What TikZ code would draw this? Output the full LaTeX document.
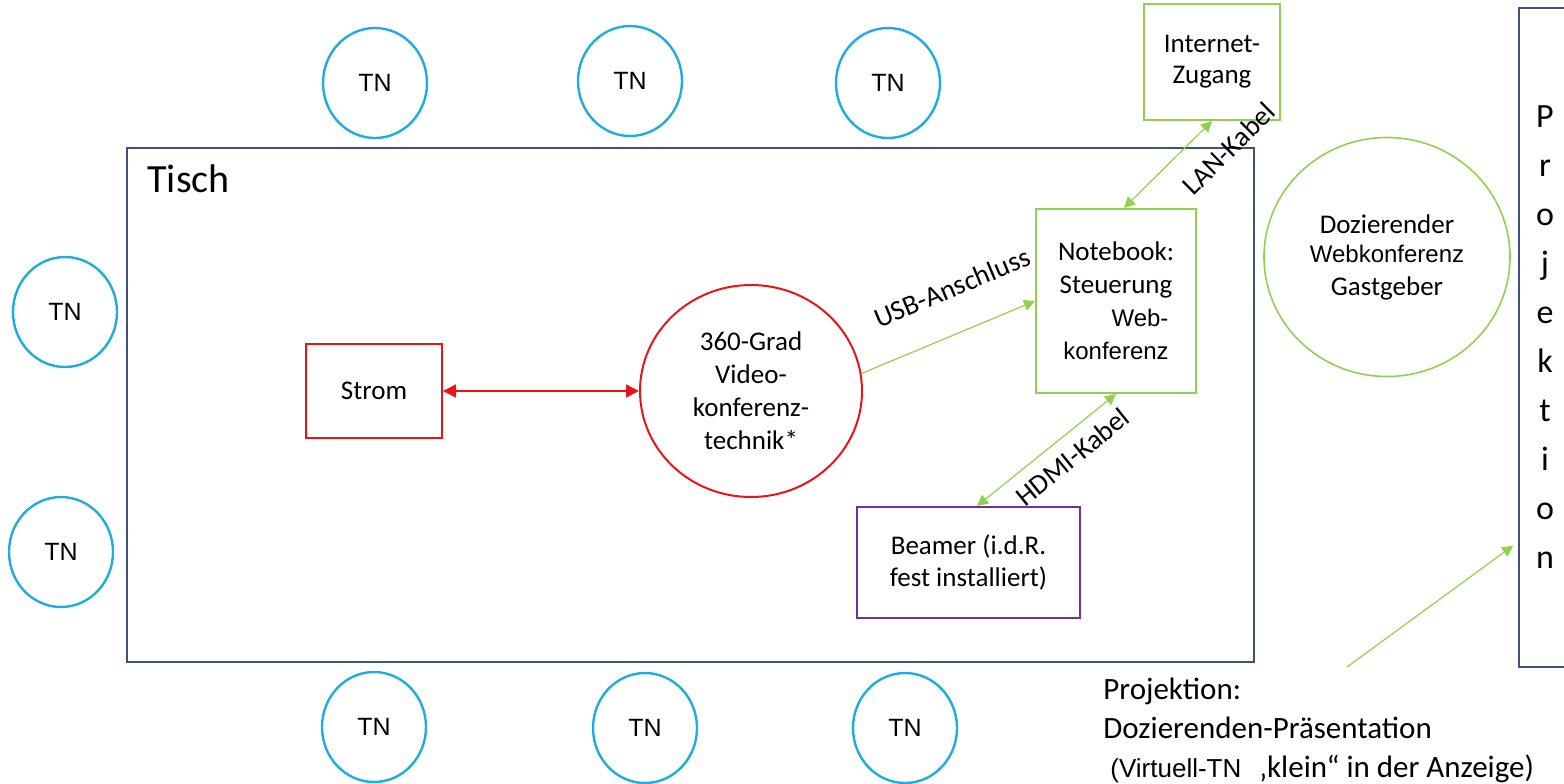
\documentclass[tikz,border=0pt]{standalone}
\usepackage{fontspec}
\setmainfont{Carlito}
\newfontfamily\arialf{Liberation Sans}
\usetikzlibrary{arrows.meta,shapes.geometric}
\definecolor{tncol}{RGB}{30,172,226}
\definecolor{tablecol}{RGB}{62,82,128}
\definecolor{redcol}{RGB}{235,20,20}
\definecolor{greencol}{RGB}{146,208,80}
\definecolor{purplecol}{RGB}{112,48,160}
\begin{document}
\begin{tikzpicture}[x=0.5pt,y=-0.5pt,
  tn/.style={ellipse,draw=tncol,line width=1.2pt,minimum width=52pt,minimum height=55pt,inner sep=0pt,font=\arialf\fontsize{12.5}{15}\selectfont},
  boxnode/.style={rectangle,line width=1pt,inner sep=0pt,align=center,font=\fontsize{13.5}{16.5}\selectfont},
  ellnode/.style={ellipse,line width=1pt,inner sep=0pt,align=center,font=\fontsize{13.5}{16.5}\selectfont},
  redarr/.style={draw=redcol,line width=0.75pt,{Triangle[length=6.5pt,width=6.5pt]}-{Triangle[length=6.5pt,width=6.5pt]}},
  garr/.style={draw=greencol,line width=0.6pt,-{Triangle[length=5.5pt,width=5.5pt]}},
  gdarr/.style={draw=greencol,line width=0.6pt,{Triangle[length=5.5pt,width=5.5pt]}-{Triangle[length=5.5pt,width=5.5pt]}},
  lab/.style={inner sep=0pt,font=\fontsize{14}{16}\selectfont,text=black}]
\useasboundingbox (0,0) rectangle (1564,783);
\clip (0,0) rectangle (1564,783);
% table
\node[draw=tablecol,line width=1pt,minimum width=563.5pt,minimum height=257pt,inner sep=0pt] (tisch) at (690.5,405) {};
\node[anchor=base west,inner sep=0pt,font=\fontsize{20}{24}\selectfont] (tischlabel) at (147,192) {Tisch};
% participants
\node[tn] (t1) at (375,83) {TN};
\node[tn] (t2) at (630,81) {TN};
\node[tn] (t3) at (888,83) {TN};
\node[tn] (l1) at (65,312) {TN};
\node[tn] (l2) at (61,552) {TN};
\node[tn] (b1) at (374,727) {TN};
\node[tn] (b2) at (645,728) {TN};
\node[tn] (b3) at (905,728) {TN};
% devices
\node[boxnode,draw=redcol,minimum width=68pt,minimum height=47pt] (strom) at (374,391) {Strom};
\node[ellnode,draw=redcol,minimum width=111pt,minimum height=106pt] (video) at (751,391) {360-Grad\\Video-\\konferenz-\\technik*};
\node[boxnode,draw=greencol,minimum width=80pt,minimum height=92pt] (nb) at (1116,301)
  {\raisebox{-2pt}{Notebook:}\\\raisebox{-2pt}{Steuerung}\\[2pt]{\arialf\fontsize{12}{15}\selectfont\hspace*{24pt}Web-}\\{\arialf\fontsize{12}{15}\selectfont konferenz}};
\node[boxnode,draw=greencol,minimum width=68pt,minimum height=58pt,font=\fontsize{13.5}{15.5}\selectfont] (inet) at (1212,62) {\raisebox{-1.5pt}{Internet-}\\\raisebox{-1.5pt}{Zugang}};
\node[ellnode,draw=greencol,line width=0.8pt,minimum width=123pt,minimum height=119.5pt,font=\fontsize{13.5}{16.5}\selectfont] (doz) at (1387,257)
  {\raisebox{-2pt}{Dozierender}\\{\arialf\fontsize{12}{15}\selectfont Webkonferenz}\\Gastgeber};
\node[boxnode,draw=purplecol,minimum width=111.5pt,minimum height=55.5pt,font=\fontsize{13.5}{16}\selectfont] (bm) at (968.5,562.5) {Beamer (i.d.R.\\fest installiert)};
\node[rectangle,draw=tablecol,line width=1pt,minimum width=40.5pt,minimum height=329.5pt,inner sep=0pt] (proj) at (1559.5,337.5) {};
\node[anchor=north,align=center,inner sep=0pt,font=\fontsize{17}{24.5}\selectfont] (projtext) at (1545,105) {P\\r\\o\\j\\e\\k\\t\\i\\o\\n};
% connectors
\draw[redarr] (strom) -- (video);
\draw[garr] (video.9) -- (nb.west) node[pos=0.62,sloped,above=17pt,lab] {USB-Anschluss};
\draw[gdarr] (inet.south) -- ([xshift=4pt]nb.north) node[pos=0.06,sloped,below=10.5pt,lab] {LAN-Kabel};
\draw[gdarr] (nb.south) -- ([xshift=4.25pt]bm.north) node[pos=0.41,sloped,below=5.5pt,lab] {HDMI-Kabel};
\coordinate (pstart) at (1347,667);
\draw[garr,shorten >=3pt] (pstart) -- (proj.west |- 0,542);
% bottom caption
\node[anchor=north west,align=left,inner sep=0pt,font=\fontsize{15.5}{19.5}\selectfont] (ptext) at (1103,678)
  {Projektion:\\Dozierenden-Präsentation\\\hspace*{3.5pt}{\arialf\fontsize{13}{19}\selectfont(Virtuell-TN}\hspace{9pt}‚klein“ in der Anzeige)};
\end{tikzpicture}
\end{document}
